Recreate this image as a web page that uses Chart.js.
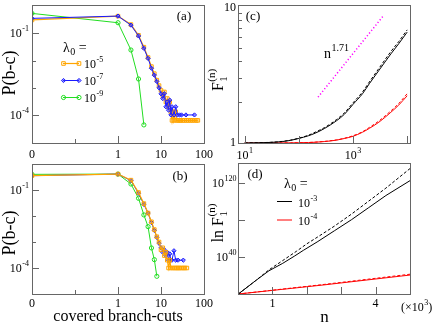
<!DOCTYPE html>
<html>
<head>
<meta charset="utf-8">
<script src="https://cdn.jsdelivr.net/npm/chart.js@4.4.0/dist/chart.umd.min.js"></script>
<style>
  html, body { margin: 0; padding: 0; background: #fff; }
  #wrap { position: relative; width: 436px; height: 323px; overflow: hidden; }
  #wrap canvas { position: absolute; left: 0; top: 0; }
</style>
</head>
<body>
<div id="wrap">
  <canvas id="chart-a" width="436" height="323"></canvas>
  <canvas id="chart-b" width="436" height="323"></canvas>
  <canvas id="chart-c" width="436" height="323"></canvas>
  <canvas id="chart-d" width="436" height="323"></canvas>
</div>
<script>
/**
 * DATA
 */
const ZERO_AT = 0.01; // the "0" cut sits two decades left of 1 on the log axis

// (a) P(b-c) vs covered branch-cuts
const cutsA5 = [0,1,2,3,4,5,6,7,8,9,10,11,12,13,14,15,16,17,18,19,20,22,23,25,27,29,32,35,39,43,48,53,59,66,72];
const probA5 = [0.31,0.43,0.21,0.085,0.031,0.013,0.006,0.0033,0.0019,0.0012,8e-4,5e-4,7e-4,3e-4,4e-4,2e-4,3e-4,1.3e-4,6.3e-5,1.3e-4,6.3e-5,
                1.3e-4,6.3e-5,6.3e-5,6.3e-5,6.3e-5,6.3e-5,6.3e-5,6.3e-5,6.3e-5,6.3e-5,6.3e-5,6.3e-5,6.3e-5,6.3e-5];
const cutsA7 = [0,1,2,3,4,5,6,7,8,9,10,11,12,13,14,15,16,17,18,20,22,24,27,30,38,60];
const probA7 = [0.355,0.43,0.2,0.08,0.028,0.012,0.0052,0.0029,0.0017,0.001,6e-4,4e-4,6e-4,2e-4,3e-4,1.5e-4,3.5e-4,1e-4,2e-4,
                1e-4,2e-4,1e-4,1e-4,1e-4,1e-4,1e-4];
const cutsA9 = [0,1,2,3,4];
const probA9 = [0.54,0.245,0.0244,0.0021,4.3e-5];

// (b)
const cutsB5 = [0,1,2,3,4,5,6,7,8,9,10,11,12,13,14,15,16,17,19,21,23,25,27,30,33,36,40];
const probB5 = [0.355,0.41,0.24,0.08,0.03,0.013,0.006,0.003,0.0016,0.001,5e-4,6e-4,3e-4,4e-4,2e-4,1e-4,2e-4,1e-4,
                1e-4,1e-4,1e-4,1e-4,1e-4,1e-4,1e-4,1e-4,1e-4];
const cutsB7 = [0,1,2,3,4,5,6,7,8,9,10,11,12,13,14,15,16,17,18,20,22,25,33];
const probB7 = [0.355,0.41,0.23,0.075,0.028,0.013,0.0056,0.0028,0.0015,9e-4,6e-4,4e-4,5e-4,3e-4,4e-4,2e-4,3.5e-4,2e-4,2e-4,
                4.6e-4,2e-4,2e-4,2e-4];
const cutsB9 = [0,1,2,3,4,5,6,7,8];
const probB9 = [0.4,0.41,0.17,0.048,0.011,0.0039,5.9e-4,2.1e-4,4.8e-5];

// (c) F_1^(n) vs n, log-log
const nC = [10,20,30,50,70,100,150,200,300,500,700,1000,1500,2000,3000,5000,7000,10000];
const fC3 = [1.0,1.005,1.01,1.025,1.045,1.08,1.13,1.18,1.28,1.46,1.63,1.92,2.3,2.72,3.4,4.5,5.35,6.5];
const fC3dash = [1.0,1.006,1.012,1.028,1.05,1.085,1.14,1.2,1.3,1.49,1.67,1.97,2.37,2.8,3.52,4.68,5.55,6.75];
const fC4 = [1.0,1.0,1.0,1.001,1.002,1.004,1.008,1.013,1.025,1.05,1.08,1.12,1.2,1.28,1.42,1.68,1.9,2.22];
const fC4dash = [1.0,1.0,1.0,1.001,1.002,1.004,1.009,1.015,1.028,1.055,1.085,1.13,1.21,1.3,1.45,1.72,1.95,2.3];
const nGuide = [226, 3580];
const fGuide = [2.17, 8.5];

// (d) ln F_1^(n) vs n (x10^3)
const nD3 = [0,0.5,0.9,1.3,1.65,1.9,2.3,2.8,3.3,3.8,4.3,5.0];
const lnD3 = [1,1e14,1e25,1e33,1e41,1e47,1e56,1e68,1e80,1e93,1e106,1e122];
const nD3dash = [0,0.5,0.9,1.3,1.7,2.0,2.3,2.8,3.3,3.8,4.3,5.0];
const lnD3dash = [1,1e14,1e26,1e36,1e46,1e54,1e61,1e73,1e86,1e100,1e114,1e135];
const nD4 = [0,2.5,5.0];
const lnD4 = [1,6.3e9,2.5e20];
const lnD4dash = [1,2e10,2e21];

// ticks
const cutTicks = [ZERO_AT, 1, 10, 100];
const cutTickLabels = ['0', '1', '10', '100'];
const cutMinor = [0.1];
const probTicks = [1e-1, 1e-4];
const probTickLabels = [['10', '-1'], ['10', '-4']];
const probMinor = [1e-2, 1e-3];
const nTicksC = [10, 100, 1000, 10000];
const nLabelTicksC = [10, 1000];
const nTickLabelsC = [['10', '1'], ['10', '3']];
const fTicksC = [1, 10];
const fTickLabelsC = ['1', '10'];
const fMinorC = [2,3,4,5,6,7,8,9];
const nTicksD = [1, 2, 3, 4];
const nLabelTicksD = [1, 4];
const nTickLabelsD = ['1', '4'];
const lnTicksD = [1e40, 1e80, 1e120];
const lnLabelTicksD = [1e40, 1e120];
const lnTickLabelsD = [['10', '40'], ['10', '120']];

const legendA = ['-5', '-7', '-9'];
const legendD = ['-3', '-4'];

/**
 * STYLE
 */
const W = 436, H = 323;
const SERIF = '"Liberation Serif", "Times New Roman", serif';
const FRAME = '#666';
const ORANGE = '#ffa500', BLUE = '#1a1aff', GREEN = '#22dd22', RED = '#ff0000', MAGENTA = '#ff00ff';

const styleOrange = { borderColor: ORANGE, borderWidth: 1.2, pointStyle: 'rect', pointRadius: 2.5, pointBorderWidth: 1,
                      pointBorderColor: ORANGE, pointBackgroundColor: 'rgba(255,255,255,0)' };
const styleBlue = { borderColor: BLUE, borderWidth: 1, pointStyle: 'rectRot', pointRadius: 2.1, pointBorderWidth: 1,
                    pointBorderColor: BLUE, pointBackgroundColor: 'rgba(60,60,255,0.5)' };
const styleGreen = { borderColor: GREEN, borderWidth: 1, pointStyle: 'circle', pointRadius: 2.1, pointBorderWidth: 1,
                     pointBorderColor: GREEN, pointBackgroundColor: 'rgba(255,255,255,0)' };

/**
 * AUX
 */
const font = s => s + 'px ' + SERIF;

// text with super/subscripts; parts are strings or [text, 'sup' | 'sub' | 'sub0'] ('sub0' does not advance)
const rich = (ctx, x, y, parts, size, align) => {
  const small = Math.round(size * 0.68);
  let cur = 0, width = 0;
  const placed = parts.map(p => {
    const [text, kind] = typeof p === 'string' ? [p, ''] : p;
    const s = kind ? small : size;
    ctx.font = font(s);
    const w = ctx.measureText(text).width;
    const at = cur + (kind ? 0.5 : 0);
    const dy = kind === 'sup' ? -size * 0.42 : (kind ? size * 0.32 : 0);
    if (kind !== 'sub0') cur = at + w;
    width = Math.max(width, at + w);
    return { text, s, at, dy };
  });
  const x0 = align === 'right' ? x - width : align === 'center' ? x - width / 2 : x;
  ctx.fillStyle = '#000';
  ctx.textAlign = 'left';
  ctx.textBaseline = 'middle';
  placed.forEach(p => { ctx.font = font(p.s); ctx.fillText(p.text, x0 + p.at, y + p.dy); });
};

const richUp = (ctx, x, y, parts, size) => {
  ctx.save();
  ctx.translate(x, y);
  ctx.rotate(-Math.PI / 2);
  rich(ctx, 0, 0, parts, size, 'center');
  ctx.restore();
};

const marker = (ctx, style, x, y) => {
  ctx.save();
  ctx.lineWidth = 1;
  ctx.strokeStyle = style.pointBorderColor;
  ctx.fillStyle = style.pointBackgroundColor;
  ctx.beginPath();
  if (style.pointStyle === 'rect') ctx.rect(x - 1.8, y - 1.8, 3.6, 3.6);
  else if (style.pointStyle === 'rectRot') { ctx.moveTo(x, y - 2.1); ctx.lineTo(x + 2.1, y); ctx.lineTo(x, y + 2.1); ctx.lineTo(x - 2.1, y); ctx.closePath(); }
  else ctx.arc(x, y, 2.1, 0, Math.PI * 2);
  ctx.fill();
  ctx.stroke();
  ctx.restore();
};

const drawFrame = (chart, xTicks, yTicks) => {
  const { ctx, chartArea: a, scales: { x, y } } = chart;
  ctx.save();
  ctx.strokeStyle = FRAME;
  ctx.lineWidth = 1;
  ctx.strokeRect(a.left + 0.5, a.top + 0.5, a.right - a.left, a.bottom - a.top);
  ctx.beginPath();
  xTicks.forEach(([v, len]) => {
    const px = Math.round(x.getPixelForValue(v)) + 0.5;
    ctx.moveTo(px, a.bottom);
    ctx.lineTo(px, a.bottom - len);
  });
  yTicks.forEach(([v, len]) => {
    const py = Math.round(y.getPixelForValue(v)) + 0.5;
    ctx.moveTo(a.left, py);
    ctx.lineTo(a.left + len, py);
  });
  ctx.stroke();
  ctx.restore();
};

const pts = (xs, ys) => xs.map((v, i) => ({ x: v === 0 ? ZERO_AT : v, y: ys[i] }));

const makeChart = (id, area, xOpts, yOpts, datasets, decorate) => new Chart(document.getElementById(id), {
  type: 'line',
  data: { datasets },
  options: {
    responsive: false,
    animation: false,
    events: [],
    layout: { padding: { left: area.left, top: area.top, right: W - area.right, bottom: H - area.bottom } },
    scales: {
      x: Object.assign({ display: false, bounds: 'data' }, xOpts),
      y: Object.assign({ display: false, bounds: 'data' }, yOpts)
    },
    plugins: { legend: { display: false }, tooltip: { enabled: false } },
    elements: { point: { radius: 0 }, line: { tension: 0 } }
  },
  plugins: [{ id: 'decor', afterDraw: decorate }]
});

const cutAxisTicks = () => cutTicks.slice(1).map(v => [v, 7]).concat(cutMinor.map(v => [v, 4]));
const probAxisTicks = () => probTicks.map(v => [v, 7]).concat(probMinor.map(v => [v, 4]));

const decorateCuts = (chart, labelY) => {
  const { ctx, scales: { x, y } } = chart;
  drawFrame(chart, cutAxisTicks(), probAxisTicks());
  cutTicks.forEach((v, i) => rich(ctx, x.getPixelForValue(v), labelY, [cutTickLabels[i]], 12, 'center'));
  probTicks.forEach((v, i) => rich(ctx, 29, y.getPixelForValue(v) + 1, [probTickLabels[i][0], [probTickLabels[i][1], 'sup']], 12, 'right'));
};

/**
 * CHARTS
 */
const logCuts = { type: 'logarithmic', min: ZERO_AT, max: 100 };

makeChart('chart-a', { left: 32, top: 5, right: 204, bottom: 143 }, logCuts,
  { type: 'logarithmic', min: 9.3e-6, max: 1.1 },
  [
    Object.assign({ data: pts(cutsA7, probA7) }, styleBlue),
    Object.assign({ data: pts(cutsA5, probA5) }, styleOrange),
    Object.assign({ data: pts(cutsA9, probA9) }, styleGreen)
  ],
  chart => {
    const ctx = chart.ctx;
    decorateCuts(chart, 155);
    richUp(ctx, 10, 73, ['P(b-c)'], 18);
    rich(ctx, 184, 17, ['(a)'], 13, 'center');
    rich(ctx, 63, 48, ['λ', ['0', 'sub'], ' ='], 14, 'left');
    [styleOrange, styleBlue, styleGreen].forEach((st, i) => {
      const ly = 63 + i * 17;
      ctx.save();
      ctx.strokeStyle = st.borderColor;
      ctx.lineWidth = st.borderWidth;
      ctx.beginPath(); ctx.moveTo(63, ly + 0.5); ctx.lineTo(79, ly + 0.5); ctx.stroke();
      ctx.restore();
      marker(ctx, st, 63.5, ly + 0.5);
      marker(ctx, st, 79, ly + 0.5);
      rich(ctx, 84, ly + 2, ['10', [legendA[i], 'sup']], 12, 'left');
    });
  });

makeChart('chart-b', { left: 32, top: 164, right: 204, bottom: 294 }, logCuts,
  { type: 'logarithmic', min: 1e-5, max: 1 },
  [
    Object.assign({ data: pts(cutsB5, probB5) }, styleOrange),
    Object.assign({ data: pts(cutsB7, probB7) }, styleBlue),
    Object.assign({ data: pts(cutsB9, probB9) }, styleGreen)
  ],
  chart => {
    const ctx = chart.ctx;
    decorateCuts(chart, 303.5);
    richUp(ctx, 10, 233, ['P(b-c)'], 18);
    rich(ctx, 180, 177, ['(b)'], 13, 'center');
    rich(ctx, 118, 317, ['covered branch-cuts'], 16, 'center');
  });

makeChart('chart-c', { left: 238, top: 5, right: 410, bottom: 143 },
  { type: 'logarithmic', min: 7.52, max: 11270 },
  { type: 'logarithmic', min: 1, max: 10.27 },
  [
    { data: pts(nC, fC3), borderColor: '#000', borderWidth: 1, cubicInterpolationMode: 'monotone' },
    { data: pts(nC, fC3dash), borderColor: '#000', borderWidth: 1, borderDash: [3, 2], cubicInterpolationMode: 'monotone' },
    { data: pts(nC, fC4), borderColor: RED, borderWidth: 1, cubicInterpolationMode: 'monotone' },
    { data: pts(nC, fC4dash), borderColor: RED, borderWidth: 1, borderDash: [3, 2], cubicInterpolationMode: 'monotone' },
    { data: pts(nGuide, fGuide), borderColor: MAGENTA, borderWidth: 1.5, borderDash: [1.2, 2.2] }
  ],
  chart => {
    const { ctx, scales: { x, y } } = chart;
    drawFrame(chart, nTicksC.map(v => [v, 7]), fMinorC.map(v => [v, 4]));
    nLabelTicksC.forEach((v, i) => rich(ctx, x.getPixelForValue(v), 156, [nTickLabelsC[i][0], [nTickLabelsC[i][1], 'sup']], 12, 'center'));
    fTicksC.forEach((v, i) => rich(ctx, 236, Math.min(Math.max(y.getPixelForValue(v), 8), 143), [fTickLabelsC[i]], 12, 'right'));
    richUp(ctx, 219, 80, ['F', ['1', 'sub0'], ['(n)', 'sup']], 16);
    rich(ctx, 253, 17, ['(c)'], 13, 'center');
    rich(ctx, 324, 54, ['n', ['1.71', 'sup']], 14, 'left');
  });

makeChart('chart-d', { left: 238, top: 163, right: 410, bottom: 294 },
  { type: 'linear', min: 0, max: 5.0 },
  { type: 'logarithmic', min: 1, max: 1e141 },
  [
    { data: pts(nD3, lnD3), borderColor: '#000', borderWidth: 1 },
    { data: pts(nD3dash, lnD3dash), borderColor: '#000', borderWidth: 1, borderDash: [3, 2] },
    { data: pts(nD4, lnD4), borderColor: RED, borderWidth: 1 },
    { data: pts(nD4, lnD4dash), borderColor: RED, borderWidth: 1, borderDash: [3, 2] }
  ],
  chart => {
    const { ctx, scales: { x, y } } = chart;
    drawFrame(chart, nTicksD.map(v => [v, 7]), lnTicksD.map(v => [v, 7]));
    nLabelTicksD.forEach((v, i) => rich(ctx, x.getPixelForValue(v), 303.5, [nTickLabelsD[i]], 12, 'center'));
    lnLabelTicksD.forEach((v, i) => rich(ctx, 236.5, y.getPixelForValue(v) + 1, [lnTickLabelsD[i][0], [lnTickLabelsD[i][1], 'sup']], 12, 'right'));
    richUp(ctx, 219, 223, ['ln F', ['1', 'sub0'], ['(n)', 'sup']], 16);
    rich(ctx, 255, 175, ['(d)'], 13, 'center');
    rich(ctx, 324.5, 318, ['n'], 17, 'center');
    rich(ctx, 401, 308, ['(×10', ['3', 'sup'], ')'], 12, 'left');
    rich(ctx, 284, 184, ['λ', ['0', 'sub'], ' ='], 14, 'left');
    [['#000', legendD[0], 201], [RED, legendD[1], 219.5]].forEach(([col, sup, ly]) => {
      ctx.save();
      ctx.strokeStyle = col;
      ctx.lineWidth = 1;
      ctx.beginPath(); ctx.moveTo(277, ly + 0.5); ctx.lineTo(292, ly + 0.5); ctx.stroke();
      ctx.restore();
      rich(ctx, 298, ly + 2.5, ['10', [sup, 'sup']], 12, 'left');
    });
  });
</script>
</body>
</html>
